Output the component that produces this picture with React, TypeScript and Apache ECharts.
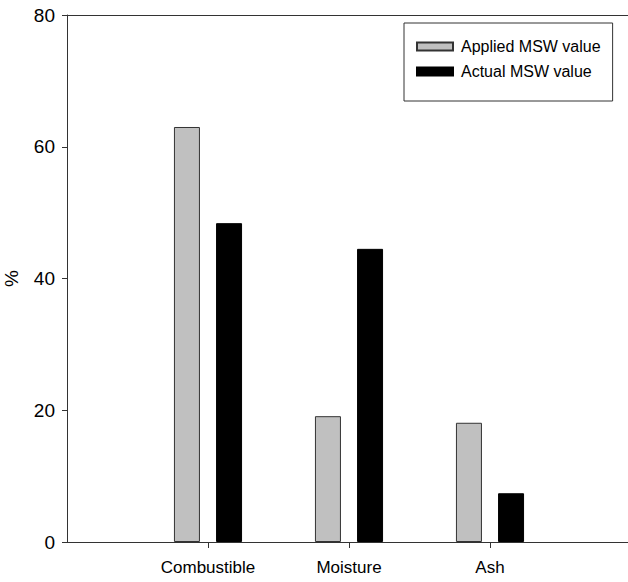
import React, { useEffect, useRef } from "react";
import * as echarts from "echarts";

const categories = ["Combustible", "Moisture", "Ash"];
const appliedValues = [63.0, 19.1, 18.1];
const actualValues = [48.4, 44.5, 7.4];
const yTicks = [0, 20, 40, 60, 80];

const FONT = "'Liberation Sans', Arial, sans-serif";

export default function App() {
  const ref = useRef<HTMLDivElement>(null);
  useEffect(() => {
    if (!ref.current) return;
    const chart = echarts.init(ref.current, undefined, { renderer: "svg" });
    const axisLineStyle = { color: "#333", width: 1 };
    // empty slots at both ends so the three groups sit at 1/4, 2/4, 3/4 of the axis
    const xData = ["", ...categories, ""];
    const isCat = (i: number) => i >= 1 && i <= categories.length;
    chart.setOption({
      animation: false,
      grid: { left: 67, top: 15, width: 564, height: 527, outerBoundsMode: "none", containLabel: false },
      legend: {
        left: 404,
        top: 23,
        orient: "vertical",
        backgroundColor: "#fff",
        borderColor: "#333",
        borderWidth: 1,
        padding: [15, 12, 21, 12],
        itemWidth: 36,
        itemHeight: 8,
        itemGap: 8,
        icon: "rect",
        textStyle: { fontFamily: FONT, fontSize: 16, lineHeight: 17, color: "#000", padding: [0, 0, 0, 3] },
        data: ["Applied MSW value", "Actual MSW value"],
      },
      xAxis: [
        {
          type: "category",
          data: xData,
          boundaryGap: false,
          position: "bottom",
          splitLine: { show: false },
          axisLine: { lineStyle: axisLineStyle },
          axisTick: { length: 6, interval: (i: number) => isCat(i), lineStyle: axisLineStyle },
          axisLabel: {
            interval: 0,
            fontFamily: FONT,
            fontSize: 17,
            color: "#000",
            margin: 17,
          },
        },
        {
          type: "category",
          data: xData,
          boundaryGap: false,
          position: "top",
          splitLine: { show: false },
          axisLine: { show: true, lineStyle: axisLineStyle },
          axisTick: { show: false },
          axisLabel: { show: false },
        },
      ],
      yAxis: {
        type: "value",
        min: yTicks[0],
        max: yTicks[yTicks.length - 1],
        interval: 20,
        name: "%",
        nameLocation: "middle",
        nameRotate: 90,
        nameGap: 46,
        nameTextStyle: { fontFamily: FONT, fontSize: 19, color: "#000" },
        splitLine: { show: false },
        axisLine: { show: true, lineStyle: axisLineStyle },
        axisTick: { show: true, length: 5, lineStyle: axisLineStyle },
        axisLabel: { fontFamily: FONT, fontSize: 19, color: "#000", margin: 12 },
      },
      series: [
        {
          name: "Applied MSW value",
          type: "bar",
          barWidth: 26,
          barGap: "62%",
          itemStyle: { color: "#c0c0c0", borderColor: "#333", borderWidth: 1 },
          data: [null, ...appliedValues, null],
        },
        {
          name: "Actual MSW value",
          type: "bar",
          barWidth: 26,
          barGap: "62%",
          itemStyle: { color: "#000", borderColor: "#000", borderWidth: 1 },
          data: [null, ...actualValues, null],
        },
      ],
    });
    return () => chart.dispose();
  }, []);
  return <div ref={ref} style={{ width: 628, height: 582, position: "absolute", left: 0, top: 0 }} />;
}
